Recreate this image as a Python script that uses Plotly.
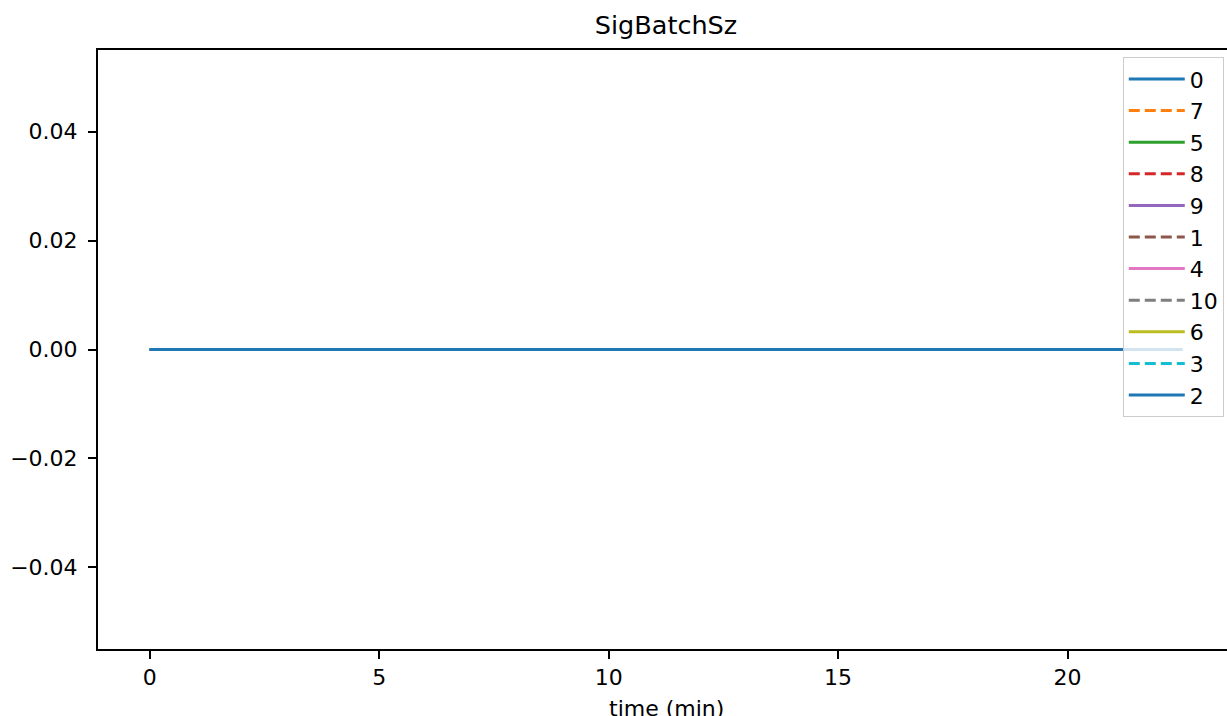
import plotly.graph_objects as go

# Data: every series is flat at 0 from t=0 to t=22.5 min
time_min = [0.0, 2.5, 5.0, 7.5, 10.0, 12.5, 15.0, 17.5, 20.0, 22.5]
series_names = ["0", "7", "5", "8", "9", "1", "4", "10", "6", "3", "2"]
series_values = {
    "0": [0, 0, 0, 0, 0, 0, 0, 0, 0, 0],
    "7": [0, 0, 0, 0, 0, 0, 0, 0, 0, 0],
    "5": [0, 0, 0, 0, 0, 0, 0, 0, 0, 0],
    "8": [0, 0, 0, 0, 0, 0, 0, 0, 0, 0],
    "9": [0, 0, 0, 0, 0, 0, 0, 0, 0, 0],
    "1": [0, 0, 0, 0, 0, 0, 0, 0, 0, 0],
    "4": [0, 0, 0, 0, 0, 0, 0, 0, 0, 0],
    "10": [0, 0, 0, 0, 0, 0, 0, 0, 0, 0],
    "6": [0, 0, 0, 0, 0, 0, 0, 0, 0, 0],
    "3": [0, 0, 0, 0, 0, 0, 0, 0, 0, 0],
    "2": [0, 0, 0, 0, 0, 0, 0, 0, 0, 0],
}
series_colors = ["#1f77b4", "#ff7f0e", "#2ca02c", "#d62728", "#9467bd", "#8c564b",
                 "#e377c2", "#7f7f7f", "#bcbd22", "#17becf", "#1f77b4"]
series_dashed = [False, True, False, True, False, True, False, True, False, True, False]

x_ticks = [0, 5, 10, 15, 20]
y_ticks = [0.04, 0.02, 0.0, -0.02, -0.04]
y_tick_text = ["0.04", "0.02", "0.00", "\u22120.02", "\u22120.04"]

FONT = "DejaVu Sans, Liberation Sans, sans-serif"
W = 1234

fig = go.Figure()
for name, color, dashed in zip(series_names, series_colors, series_dashed):
    fig.add_trace(go.Scatter(
        x=time_min, y=series_values[name], name=name, mode="lines",
        line=dict(color=color, width=3, dash="11px,5px" if dashed else "solid"),
    ))

fig.update_layout(
    width=W, height=716,
    margin=dict(l=98, r=0, t=50, b=67, autoexpand=False),
    paper_bgcolor="white", plot_bgcolor="white",
    font=dict(family=FONT, size=22, color="black"),
    title=dict(text="SigBatchSz", x=666 / W, xanchor="center",
               y=1 - 34 / 716, yanchor="bottom", yref="container",
               font=dict(family=FONT, size=25.5, color="black")),
    showlegend=True,
    legend=dict(x=0.991, xanchor="right", y=0.988, yanchor="top",
                bgcolor="rgba(255,255,255,0.8)", bordercolor="#cccccc", borderwidth=1,
                font=dict(family=FONT, size=22, color="black"),
                tracegroupgap=0, itemwidth=56),
    annotations=[dict(text="time (min)", xref="paper", yref="paper",
                      x=(666 - 98) / (W - 98), y=(649 - 708) / 599,
                      xanchor="center", yanchor="middle", showarrow=False,
                      font=dict(family=FONT, size=22, color="black"))],
)
fig.update_xaxes(
    range=[-1.125, 23.625], tickvals=x_ticks, ticktext=[str(t) for t in x_ticks],
    automargin=False,
    showgrid=False, zeroline=False, showline=True, linecolor="black", linewidth=2,
    mirror=True, ticks="outside", ticklen=8, tickwidth=1.5, tickcolor="black",
    tickfont=dict(family=FONT, size=22, color="black"),
)
fig.update_yaxes(
    range=[-0.055, 0.055], tickvals=y_ticks, ticktext=y_tick_text,
    automargin=False,
    showgrid=False, zeroline=False, showline=True, linecolor="black", linewidth=2,
    mirror=False, ticks="outside", ticklen=8, tickwidth=1.5, tickcolor="black",
    ticklabelstandoff=6,
    tickfont=dict(family=FONT, size=22, color="black"),
)

fig.write_html(
    "out.html",
    config={"displayModeBar": False},
    post_script="document.body.style.margin='0';document.body.style.overflow='hidden';",
)
